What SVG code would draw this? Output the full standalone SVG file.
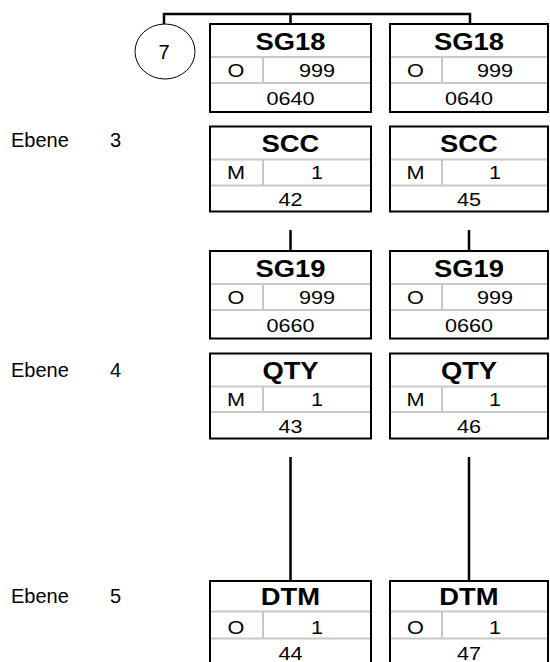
<svg xmlns="http://www.w3.org/2000/svg" width="550" height="662" viewBox="0 0 550 662">
<style>
.bg{fill:#fff}
.box{fill:#fff;stroke:#000;stroke-width:2}
.sep{stroke:#c8c8c8;stroke-width:2;fill:none}
.con{stroke:#000;stroke-width:2.5;fill:none}
.t{font-family:"Liberation Sans",Arial,sans-serif;font-size:24px;font-weight:bold;text-anchor:middle;fill:#000;transform-box:fill-box;transform-origin:center;transform:scaleX(1.14)}
.v{font-family:"Liberation Sans",Arial,sans-serif;font-size:19px;text-anchor:middle;fill:#000;transform-box:fill-box;transform-origin:center;transform:scaleX(1.14)}
.n{font-family:"Liberation Sans",Arial,sans-serif;font-size:20px;text-anchor:middle;fill:#000}
.l{font-family:"Liberation Sans",Arial,sans-serif;font-size:20px;fill:#000}
.circ{fill:#fff;stroke:#000;stroke-width:1}
</style>
<rect class="bg" x="0" y="0" width="550" height="662"/>
<g id="connectors">
<path class="con" d="M164,24 V14 H470 V23 M290.5,14 V23"/>
<path class="con" d="M290.5,230 V250 M469,230 V250"/>
<path class="con" d="M290.5,457 V581 M469,457 V581"/>
</g>
<g id="ref7">
<ellipse class="circ" cx="165" cy="51.5" rx="30" ry="27.5"/>
<text class="n" x="164" y="59">7</text>
</g>
<g id="labels">
<text class="l" x="11" y="147">Ebene</text><text class="l" x="110" y="147">3</text>
<text class="l" x="11" y="377">Ebene</text><text class="l" x="110" y="377">4</text>
<text class="l" x="11" y="603">Ebene</text><text class="l" x="110" y="603">5</text>
</g>
<g id="sg18a">
<rect class="box" x="210" y="24" width="161" height="88"/>
<path class="sep" d="M211,57 H370 M211,83 H370 M263,57 V83"/>
<text class="t" x="290.5" y="50">SG18</text>
<text class="v" x="236" y="77">O</text><text class="v" x="317" y="77">999</text>
<text class="v" x="290.5" y="105">0640</text>
</g>
<g id="sg18b">
<rect class="box" x="390" y="24" width="158" height="88"/>
<path class="sep" d="M391,57 H547 M391,83 H547 M442,57 V83"/>
<text class="t" x="469" y="50">SG18</text>
<text class="v" x="415.5" y="77">O</text><text class="v" x="495" y="77">999</text>
<text class="v" x="469" y="105">0640</text>
</g>
<g id="scc42">
<rect class="box" x="210" y="126.5" width="161" height="85"/>
<path class="sep" d="M211,159.5 H370 M211,185.5 H370 M263,159.5 V185.5"/>
<text class="t" x="290.5" y="152">SCC</text>
<text class="v" x="236" y="179.5">M</text><text class="v" x="317" y="179.5">1</text>
<text class="v" x="290.5" y="206">42</text>
</g>
<g id="scc45">
<rect class="box" x="390" y="126.5" width="158" height="85"/>
<path class="sep" d="M391,159.5 H547 M391,185.5 H547 M442,159.5 V185.5"/>
<text class="t" x="469" y="152">SCC</text>
<text class="v" x="415.5" y="179.5">M</text><text class="v" x="495" y="179.5">1</text>
<text class="v" x="469" y="206">45</text>
</g>
<g id="sg19a">
<rect class="box" x="210" y="251" width="161" height="87.5"/>
<path class="sep" d="M211,284 H370 M211,310 H370 M263,284 V310"/>
<text class="t" x="290.5" y="277">SG19</text>
<text class="v" x="236" y="304">O</text><text class="v" x="317" y="304">999</text>
<text class="v" x="290.5" y="332">0660</text>
</g>
<g id="sg19b">
<rect class="box" x="390" y="251" width="158" height="87.5"/>
<path class="sep" d="M391,284 H547 M391,310 H547 M442,284 V310"/>
<text class="t" x="469" y="277">SG19</text>
<text class="v" x="415.5" y="304">O</text><text class="v" x="495" y="304">999</text>
<text class="v" x="469" y="332">0660</text>
</g>
<g id="qty43">
<rect class="box" x="210" y="353.5" width="161" height="85"/>
<path class="sep" d="M211,386.5 H370 M211,412 H370 M263,386.5 V412"/>
<text class="t" x="290.5" y="379">QTY</text>
<text class="v" x="236" y="406">M</text><text class="v" x="317" y="406">1</text>
<text class="v" x="290.5" y="433">43</text>
</g>
<g id="qty46">
<rect class="box" x="390" y="353.5" width="158" height="85"/>
<path class="sep" d="M391,386.5 H547 M391,412 H547 M442,386.5 V412"/>
<text class="t" x="469" y="379">QTY</text>
<text class="v" x="415.5" y="406">M</text><text class="v" x="495" y="406">1</text>
<text class="v" x="469" y="433">46</text>
</g>
<g id="dtm44">
<rect class="box" x="210" y="581" width="161" height="90"/>
<path class="sep" d="M211,611.5 H370 M211,638.5 H370 M263,611.5 V638.5"/>
<text class="t" x="290.5" y="605">DTM</text>
<text class="v" x="236" y="634.5">O</text><text class="v" x="317" y="634.5">1</text>
<text class="v" x="290.5" y="660">44</text>
</g>
<g id="dtm47">
<rect class="box" x="390" y="581" width="158" height="90"/>
<path class="sep" d="M391,611.5 H547 M391,638.5 H547 M442,611.5 V638.5"/>
<text class="t" x="469" y="605">DTM</text>
<text class="v" x="415.5" y="634.5">O</text><text class="v" x="495" y="634.5">1</text>
<text class="v" x="469" y="660">47</text>
</g>
</svg>
